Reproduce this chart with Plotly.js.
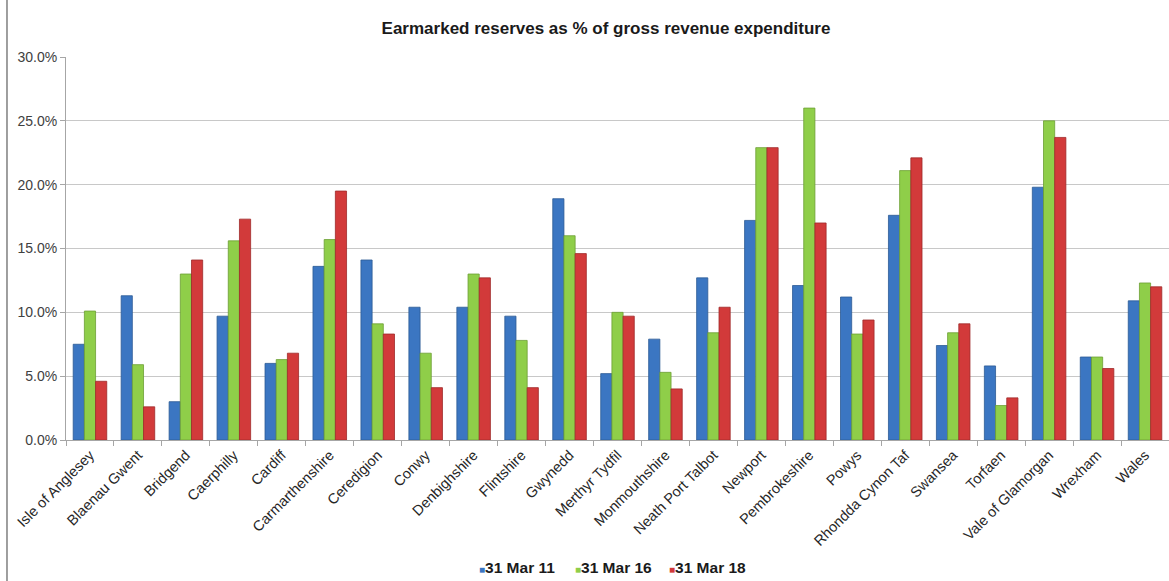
<!DOCTYPE html>
<html>
<head>
<meta charset="utf-8">
<script src="https://cdn.plot.ly/plotly-3.0.1.min.js"></script>
<style>
html,body{margin:0;padding:0;background:#fff;}
#chart{width:1169px;height:581px;}
</style>
</head>
<body>
<div id="chart"></div>
<script>
const categories = ["Isle of Anglesey","Blaenau Gwent","Bridgend","Caerphilly","Cardiff","Carmarthenshire","Ceredigion","Conwy","Denbighshire","Flintshire","Gwynedd","Merthyr Tydfil","Monmouthshire","Neath Port Talbot","Newport","Pembrokeshire","Powys","Rhondda Cynon Taf","Swansea","Torfaen","Vale of Glamorgan","Wrexham","Wales"];
const mar11 = [7.5,11.3,3.0,9.7,6.0,13.6,14.1,10.4,10.4,9.7,18.9,5.2,7.9,12.7,17.2,12.1,11.2,17.6,7.4,5.8,19.8,6.5,10.9];
const mar16 = [10.1,5.9,13.0,15.6,6.3,15.7,9.1,6.8,13.0,7.8,16.0,10.0,5.3,8.4,22.9,26.0,8.3,21.1,8.4,2.7,25.0,6.5,12.3];
const mar18 = [4.6,2.6,14.1,17.3,6.8,19.5,8.3,4.1,12.7,4.1,14.6,9.7,4.0,10.4,22.9,17.0,9.4,22.1,9.1,3.3,23.7,5.6,12.0];
const seriesNames = ["31 Mar 11","31 Mar 16","31 Mar 18"];
const colors = ["#3b76c2","#8fce49","#d23a3a"];
const lineColors = ["#2c5a94","#6c9e34","#9e2a2a"];
const seriesValues = [mar11, mar16, mar18];

const traces = seriesValues.map((vals,i)=>({
  type:'bar',
  name:seriesNames[i],
  x:categories,
  y:vals,
  marker:{color:colors[i], line:{color:lineColors[i], width:0.8}},
  showlegend:false
}));

// compact legend: one annotation per series, small square swatch before label
const legendLeftPx = [477, 573, 667];
const legendAnnotations = seriesNames.map((n,i)=>({
  text:`<span style="color:${colors[i]};font-size:10px">\u25A0</span><b>${n}</b>`,
  xref:'paper', yref:'paper',
  x:(legendLeftPx[i]-66)/1103, y:(440-567)/383,
  xanchor:'left', yanchor:'middle', showarrow:false,
  font:{size:15.5, color:'#1a1a1a'}
}));

const layout = {
  width:1169, height:581,
  margin:{l:66, r:0, t:57, b:141},
  paper_bgcolor:'#fff', plot_bgcolor:'#fff',
  font:{family:'Liberation Sans, Arial, sans-serif', color:'#404040'},
  title:{text:'<b>Earmarked reserves as % of gross revenue expenditure</b>',
         font:{size:17, color:'#1a1a1a', family:'Liberation Sans, Arial, sans-serif'},
         x:606/1169, xref:'container', xanchor:'center', y:1-28/581, yref:'container', yanchor:'middle'},
  barmode:'group', bargap:0.3, bargroupgap:0,
  xaxis:{type:'category', tickangle:-45, tickfont:{size:14.5, color:'#262626'},
         showline:true, linecolor:'#a6a6a6', linewidth:1,
         ticks:'outside', ticklen:5, tickcolor:'#a6a6a6', tickson:'boundaries',
         showgrid:false, automargin:false},
  yaxis:{range:[0,30], dtick:5, tickformat:'.1f', ticksuffix:'%',
         tickfont:{size:14, color:'#404040'},
         showline:true, linecolor:'#a6a6a6', linewidth:1,
         ticks:'outside', ticklen:5, tickcolor:'#a6a6a6',
         showgrid:true, gridcolor:'#c8c8c8', gridwidth:1, zeroline:false, automargin:false},
  showlegend:false,
  annotations:legendAnnotations,
  shapes:[{type:'line', xref:'paper', yref:'paper', x0:-0.0535, x1:-0.0535, y0:-0.40, y1:1.15,
           line:{color:'#7f7f7f', width:1.5}}]
};
Plotly.newPlot('chart', traces, layout, {displayModeBar:false, staticPlot:true});
</script>
</body>
</html>
